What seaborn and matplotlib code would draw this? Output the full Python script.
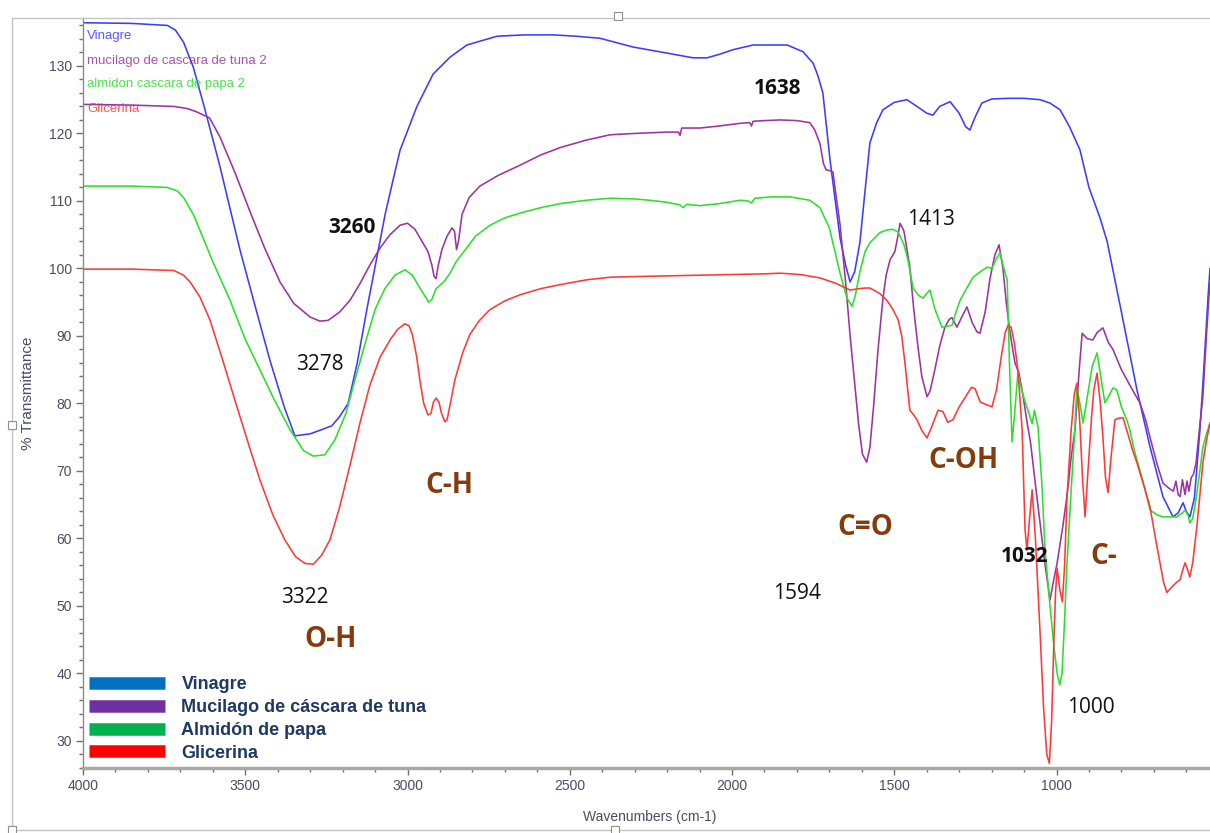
import matplotlib
matplotlib.use("Agg")
import numpy as np
import pandas as pd
import matplotlib.pyplot as plt
from matplotlib.lines import Line2D
from matplotlib.patches import Rectangle
from matplotlib.ticker import MultipleLocator
from matplotlib.font_manager import FontProperties
import seaborn as sns

# ---------------- data ----------------
series_names = ["Vinagre", "mucilago de cascara de tuna 2",
                "almidon cascara de papa 2", "Glicerina"]
legend_labels = ["Vinagre", "Mucilago de cáscara de tuna",
                 "Almidón de papa", "Glicerina"]

vin_wn = [4000, 3850, 3740, 3715, 3690, 3660, 3624, 3580, 3516, 3470,
          3424, 3380, 3347, 3300, 3260, 3233, 3210, 3183, 3155, 3125,
          3095, 3069, 3045, 3023, 2971, 2921, 2869, 2817, 2724, 2640,
          2551, 2480, 2407, 2305, 2200, 2120, 2077, 2040, 1997, 1935,
          1830, 1781, 1750, 1735, 1720, 1698, 1667, 1650, 1636, 1622,
          1606, 1590, 1575, 1555, 1535, 1500, 1461, 1430, 1400, 1381,
          1360, 1328, 1300, 1280, 1267, 1250, 1230, 1200, 1150, 1100,
          1051, 1020, 989, 960, 928, 900, 866, 844, 804, 752,
          712, 672, 641, 625, 610, 600, 589, 575, 558, 545,
          533, 527]
vin_t = [136.4, 136.3, 136.0, 135.3, 133.5, 129.8, 123.5, 115.5, 102.7, 94.5,
         86.4, 79.5, 75.2, 75.5, 76.2, 76.7, 78.0, 80.0, 86.0, 94.0,
         101.5, 108.0, 113.0, 117.5, 124.0, 128.8, 131.3, 133.1, 134.4, 134.6,
         134.6, 134.4, 134.1, 132.8, 131.9, 131.2, 131.2, 131.7, 132.4, 133.1,
         133.1, 132.1, 130.4, 128.5, 126.0, 116.1, 104.5, 100.5, 98.0, 99.5,
         103.8, 111.5, 118.6, 121.5, 123.5, 124.6, 125.0, 124.0, 123.0, 122.7,
         124.0, 124.7, 123.0, 121.0, 120.5, 122.5, 124.5, 125.1, 125.2, 125.2,
         125.0, 124.5, 123.5, 121.0, 117.6, 112.0, 107.5, 104.0, 94.5, 82.0,
         73.6, 66.2, 63.2, 63.8, 65.3, 64.0, 63.2, 66.0, 76.1, 86.0,
         95.8, 100.0]

muc_wn = [4000, 3850, 3720, 3680, 3650, 3610, 3578, 3530, 3486, 3440,
          3393, 3350, 3300, 3270, 3245, 3210, 3177, 3146, 3116, 3085,
          3054, 3023, 3000, 2977, 2955, 2937, 2925, 2918, 2912, 2905,
          2894, 2878, 2863, 2855, 2849, 2843, 2832, 2810, 2777, 2720,
          2653, 2590, 2530, 2450, 2376, 2300, 2253, 2200, 2165, 2160,
          2155, 2099, 2040, 1975, 1945, 1940, 1935, 1900, 1852, 1800,
          1760, 1745, 1729, 1718, 1710, 1700, 1689, 1680, 1667, 1650,
          1636, 1620, 1610, 1598, 1585, 1575, 1563, 1550, 1535, 1525,
          1513, 1498, 1490, 1482, 1470, 1452, 1440, 1427, 1415, 1399,
          1390, 1375, 1360, 1344, 1330, 1322, 1307, 1290, 1276, 1260,
          1245, 1236, 1220, 1205, 1190, 1177, 1165, 1155, 1143, 1128,
          1116, 1106, 1090, 1080, 1065, 1050, 1035, 1020, 1010, 998,
          980, 968, 955, 943, 930, 921, 905, 888, 875, 857,
          840, 826, 800, 783, 760, 743, 725, 712, 690, 672,
          655, 640, 632, 625, 619, 612, 604, 598, 592, 585,
          578, 570, 560, 549, 538, 527]
muc_t = [124.3, 124.2, 124.0, 123.7, 123.2, 122.3, 119.5, 114.0, 108.5, 103.0,
         98.0, 94.8, 92.8, 92.2, 92.3, 93.5, 95.3, 97.8, 100.5, 103.0,
         105.0, 106.4, 106.7, 105.8, 104.0, 102.5, 100.5, 98.8, 98.5, 100.5,
         102.8, 104.8, 106.0, 105.5, 102.8, 104.0, 108.0, 110.5, 112.2, 113.8,
         115.3, 116.8, 117.9, 119.0, 119.8, 120.0, 120.1, 120.2, 120.2, 119.7,
         120.8, 120.8, 121.1, 121.5, 121.6, 121.1, 121.8, 121.9, 122.0, 121.9,
         121.6, 120.5, 118.5, 115.5, 114.6, 114.5, 114.3, 111.0, 106.5, 98.0,
         90.0, 82.0, 77.0, 72.5, 71.3, 73.5, 80.0, 88.0, 95.5, 99.0,
         101.3, 102.5, 104.5, 106.7, 105.5, 100.2, 94.0, 88.4, 84.0, 81.0,
         81.8, 85.0, 88.5, 91.3, 92.5, 92.7, 91.3, 93.0, 94.3, 92.0,
         90.6, 90.4, 93.5, 98.5, 102.0, 103.5, 100.0, 95.0, 90.4, 86.0,
         84.5, 82.0, 77.0, 74.2, 68.0, 62.0, 56.0, 50.9, 53.5, 56.4,
         62.0, 66.2, 72.0, 76.1, 85.0, 90.4, 89.6, 89.4, 90.5, 91.2,
         89.0, 88.0, 85.0, 83.5, 81.5, 80.1, 77.5, 75.0, 71.0, 68.2,
         67.5, 67.0, 68.5, 66.5, 66.2, 68.7, 66.5, 68.5, 67.0, 69.0,
         69.5, 71.2, 76.0, 81.0, 90.0, 98.3]

alm_wn = [4000, 3850, 3740, 3710, 3690, 3660, 3640, 3600, 3547, 3500,
          3455, 3410, 3362, 3320, 3290, 3255, 3224, 3190, 3162, 3130,
          3100, 3070, 3039, 3008, 2985, 2968, 2950, 2935, 2925, 2912,
          2900, 2885, 2869, 2850, 2823, 2790, 2746, 2700, 2653, 2590,
          2530, 2450, 2376, 2300, 2253, 2200, 2160, 2150, 2140, 2099,
          2040, 1975, 1950, 1940, 1930, 1880, 1821, 1760, 1729, 1700,
          1667, 1645, 1630, 1620, 1606, 1590, 1575, 1545, 1523, 1505,
          1488, 1470, 1458, 1442, 1425, 1411, 1400, 1390, 1375, 1353,
          1340, 1322, 1310, 1297, 1280, 1257, 1235, 1214, 1199, 1185,
          1174, 1165, 1152, 1145, 1137, 1130, 1119, 1105, 1088, 1075,
          1068, 1057, 1045, 1035, 1020, 1008, 998, 990, 983, 975,
          968, 955, 945, 937, 928, 918, 905, 890, 875, 862,
          851, 840, 826, 814, 800, 783, 774, 760, 743, 728,
          712, 690, 672, 650, 629, 612, 604, 595, 589, 580,
          568, 558, 549, 538, 527]
alm_t = [112.2, 112.2, 112.0, 111.5, 110.5, 108.0, 105.7, 101.0, 95.3, 89.5,
         85.0, 80.5, 76.1, 73.0, 72.2, 72.4, 74.6, 78.5, 83.5, 89.0,
         93.9, 97.0, 99.0, 99.8, 99.0, 97.6, 96.2, 95.0, 95.4, 97.0,
         97.5, 98.2, 99.3, 101.0, 102.7, 104.8, 106.4, 107.5, 108.2, 109.0,
         109.6, 110.1, 110.4, 110.3, 110.1, 109.8, 109.4, 109.0, 109.5, 109.3,
         109.6, 110.1, 110.0, 109.7, 110.4, 110.6, 110.6, 110.1, 109.0, 106.0,
         99.3, 95.5, 94.4, 96.0, 99.5, 102.5, 103.8, 105.3, 105.7, 105.8,
         105.4, 103.5, 101.3, 97.1, 96.0, 95.6, 96.3, 96.8, 94.0, 91.3,
         91.4, 91.6, 93.5, 95.3, 96.8, 98.7, 99.5, 100.2, 100.0, 101.5,
         102.3, 100.5, 98.3, 86.0, 74.3, 78.0, 84.5, 81.5, 79.0, 77.0,
         79.0, 76.5, 68.0, 58.0, 50.0, 44.0, 40.0, 38.3, 40.0, 48.0,
         56.0, 67.0, 75.0, 82.4, 80.0, 77.1, 81.0, 85.5, 87.5, 83.5,
         80.1, 81.0, 82.3, 82.0, 79.5, 77.5, 76.1, 73.0, 70.1, 67.5,
         64.2, 63.5, 63.2, 63.2, 63.2, 63.8, 64.2, 63.5, 62.3, 63.0,
         66.5, 70.1, 73.5, 75.5, 77.1]

gli_wn = [4000, 3850, 3720, 3690, 3670, 3640, 3609, 3570, 3532, 3490,
          3455, 3415, 3378, 3345, 3316, 3290, 3265, 3239, 3210, 3177,
          3146, 3116, 3085, 3054, 3030, 3008, 2995, 2985, 2972, 2962,
          2950, 2937, 2928, 2920, 2912, 2903, 2895, 2885, 2878, 2868,
          2854, 2830, 2808, 2780, 2746, 2700, 2653, 2590, 2530, 2450,
          2376, 2300, 2200, 2099, 2000, 1900, 1852, 1790, 1729, 1680,
          1636, 1610, 1590, 1575, 1545, 1523, 1505, 1488, 1477, 1467,
          1452, 1440, 1430, 1415, 1399, 1385, 1365, 1350, 1335, 1319,
          1300, 1280, 1262, 1251, 1235, 1215, 1199, 1185, 1170, 1158,
          1149, 1140, 1130, 1119, 1106, 1097, 1091, 1083, 1075, 1065,
          1051, 1040, 1030, 1022, 1015, 1008, 1003, 998, 990, 982,
          975, 968, 955, 945, 937, 928, 920, 912, 903, 892,
          885, 875, 865, 857, 849, 841, 833, 820, 810, 795,
          780, 765, 752, 735, 712, 695, 681, 670, 660, 645,
          630, 619, 610, 604, 597, 589, 580, 567, 558, 549,
          538, 527]
gli_t = [99.9, 99.9, 99.7, 99.0, 98.0, 95.8, 92.4, 86.5, 80.5, 74.0,
         68.7, 63.5, 59.8, 57.3, 56.3, 56.2, 57.5, 59.8, 64.5, 70.9,
         77.2, 82.7, 86.8, 89.4, 91.0, 91.8, 91.5, 90.2, 87.0, 83.5,
         80.0, 78.3, 78.5, 80.2, 80.8, 80.2, 78.5, 77.3, 77.6, 80.0,
         83.5, 87.5, 90.2, 92.2, 93.9, 95.2, 96.1, 97.0, 97.6, 98.3,
         98.7, 98.8, 98.9, 99.0, 99.1, 99.2, 99.3, 99.1, 98.6, 97.8,
         96.8, 97.0, 97.1, 97.1, 96.3, 95.3, 94.0, 92.4, 90.0, 86.0,
         79.0, 78.3, 77.6, 76.0, 74.9, 76.5, 79.0, 78.8, 77.2, 77.6,
         79.5, 81.0, 82.4, 82.2, 80.2, 79.8, 79.5, 82.0, 87.0, 90.5,
         91.6, 91.3, 89.0, 85.0, 76.1, 61.3, 58.3, 63.0, 67.2, 60.0,
         46.4, 35.0, 28.0, 26.7, 33.0, 45.0, 52.0, 55.6, 52.5, 50.6,
         56.0, 65.7, 76.0, 81.5, 83.0, 77.0, 69.0, 63.2, 70.0, 78.0,
         82.0, 84.5, 80.0, 75.0, 69.0, 66.8, 71.5, 77.6, 77.8, 77.9,
         75.5, 73.0, 71.2, 68.5, 64.7, 60.0, 56.4, 53.5, 52.0, 52.8,
         53.5, 53.9, 55.5, 56.4, 55.5, 54.3, 56.5, 62.0, 66.5, 71.2,
         74.5, 77.1]

x_ticks = [4000, 3500, 3000, 2500, 2000, 1500, 1000]
y_ticks = [30, 40, 50, 60, 70, 80, 90, 100, 110, 120, 130]

# peak / group annotations: (text, wavenumber, %T)
peak_labels = [("1638", 1861, 126.7, "bold"), ("3260", 3171, 106.0, "bold"),
               ("3278", 3270, 85.7, "normal"), ("3322", 3316, 51.2, "normal"),
               ("1594", 1800, 51.9, "normal"), ("1413", 1387, 107.2, "normal"),
               ("1032", 1100, 57.4, "bold"), ("1000", 894, 35.0, "normal")]
group_labels = [("O-H", 3236, 45.0), ("C-H", 2872, 67.9), ("C=O", 1590, 61.7),
                ("C-OH", 1288, 71.5), ("C-", 854, 57.4)]

# ---------------- styling ----------------
line_colors = ["#3c3cff", "#9a349f", "#2be02b", "#ff3838"]
bar_colors = ["#0070c0", "#7030a0", "#00b050", "#ff0000"]
brown = "#843c0c"
tick_color = "#4b4b63"

sns.set_style("white")
plt.rcParams['font.family'] = ['Liberation Sans', 'DejaVu Sans']
narrow = ['Liberation Sans Narrow', 'Liberation Sans', 'DejaVu Sans']
calib = ['Open Sans', 'DejaVu Sans']

frames = []
for name, wn, t in [(series_names[0], vin_wn, vin_t), (series_names[1], muc_wn, muc_t),
                    (series_names[2], alm_wn, alm_t), (series_names[3], gli_wn, gli_t)]:
    assert len(wn) == len(t), name
    frames.append(pd.DataFrame({"wn": wn, "T": t, "series": name}))
df = pd.concat(frames, ignore_index=True)

W, H = 1210, 833
fig = plt.figure(figsize=(W / 100, H / 100), dpi=100)
ax = fig.add_axes([83 / W, 65 / H, 1127 / W, 750 / H])

sns.lineplot(data=df, x="wn", y="T", hue="series", hue_order=series_names,
             palette=dict(zip(series_names, line_colors)), sort=False,
             estimator=None, legend=False, linewidth=1.15, ax=ax)

ax.set_xlim(4000, 527)
ax.set_ylim(26.0, 137.1)
ax.set_xticks(x_ticks)
ax.set_yticks(y_ticks)
ax.xaxis.set_minor_locator(MultipleLocator(100))
ax.yaxis.set_minor_locator(MultipleLocator(2))
ax.tick_params(axis='both', which='major', direction='out', length=5, width=1,
               color='#707070', labelcolor=tick_color, labelsize=10, pad=3)
ax.tick_params(axis='both', which='minor', direction='out', length=3, width=1,
               color='#707070')
ax.tick_params(axis='y', which='both', left=True)
ax.tick_params(axis='x', which='both', bottom=True)
for lab in ax.get_xticklabels() + ax.get_yticklabels():
    lab.set_fontfamily(narrow)

for s in ['top', 'right']:
    ax.spines[s].set_visible(False)
ax.spines['left'].set_color('#8a8a8a')
ax.spines['left'].set_linewidth(1.0)
ax.spines['bottom'].set_color('#a8a8a8')
ax.spines['bottom'].set_linewidth(2.5)

ax.set_xlabel("Wavenumbers (cm-1)", fontsize=10, color=tick_color, family=narrow)
ax.set_ylabel("% Transmittance", fontsize=11, color=tick_color)
ax.xaxis.set_label_coords((650 - 83) / 1127, -0.056)
ax.yaxis.set_label_coords((35 - 83) / 1127, 0.5)

# small series names at top-left
for name, c, ypix in zip(series_names, line_colors, [36, 61, 84, 109]):
    ax.text((87 - 83) / 1127, (768 - ypix) / 750, name, transform=ax.transAxes,
            color=c, fontsize=9.5, family=narrow, ha='left', va='center', alpha=0.85)

# peak annotations
for txt, wn, t, wt in peak_labels:
    ax.text(wn, t, txt, fontsize=15, fontweight=wt, family=calib, color='#111111',
            ha='center', va='center')
for txt, wn, t in group_labels:
    ax.text(wn, t, txt, fontsize=20, fontweight='bold', family=calib, color=brown,
            ha='center', va='center')

# bottom legend with thick bars
handles = [Line2D([0], [0], color=c, lw=9, solid_capstyle='butt') for c in bar_colors]
leg = ax.legend(handles, legend_labels, loc='lower left', bbox_to_anchor=(0.0, 0.0),
                frameon=False, prop=FontProperties(family='Liberation Sans', weight='bold', size=13),
                labelcolor='#1f3864', handlelength=4.2, handletextpad=0.9,
                labelspacing=0.32, borderpad=0.15, borderaxespad=0.2)

# picture frame (as in the document screenshot)
fc = '#c4c4c4'
fig.add_artist(Line2D([12 / W, 12 / W], [0, 1 - 18 / H], transform=fig.transFigure, color=fc, lw=1))
fig.add_artist(Line2D([12 / W, 1], [1 - 18 / H, 1 - 18 / H], transform=fig.transFigure, color=fc, lw=1))
fig.add_artist(Line2D([12 / W, 1], [1 - 830 / H, 1 - 830 / H], transform=fig.transFigure, color=fc, lw=1))
for hx, hy in [(12, 425), (12, 830), (615, 830), (618, 16)]:
    fig.add_artist(Rectangle(((hx - 4) / W, 1 - (hy + 4) / H), 8 / W, 8 / H,
                             transform=fig.transFigure, facecolor='white',
                             edgecolor='#909090', lw=0.8, zorder=10))

fig.savefig("out.png", dpi=100)
